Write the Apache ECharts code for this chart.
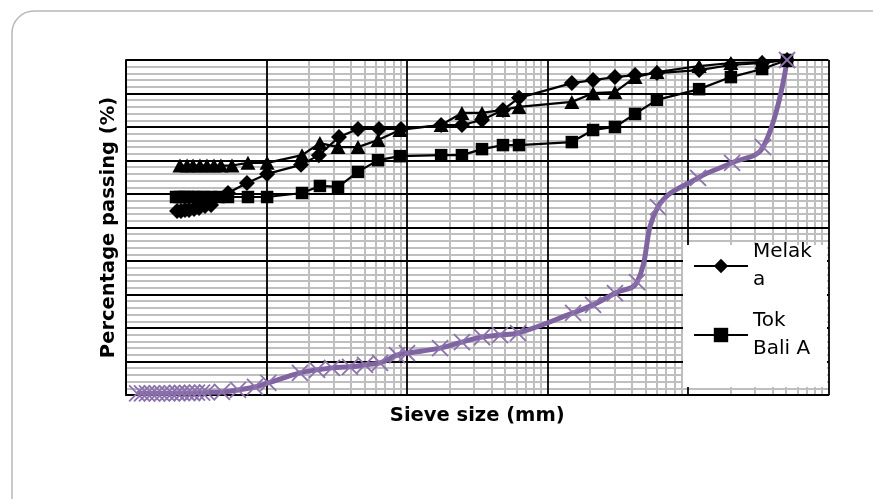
<!DOCTYPE html>
<html>
<head>
<meta charset="utf-8">
<script src="https://cdn.jsdelivr.net/npm/echarts@6/dist/echarts.min.js"></script>
<style>
html,body{margin:0;padding:0;background:#fff;}
#chart{width:873px;height:499px;}
</style>
</head>
<body>
<div id="chart"></div>
<script>
// sieve size (mm) vs percentage passing (%)
var melaka_size = [0.00231,0.00246,0.00263,0.00281,0.00305,0.00331,0.00365,0.00403,0.00532,0.00726,0.0101,
  0.0176,0.0236,0.0328,0.0448,0.0632,0.0906,0.175,0.246,0.342,0.482,0.627,1.49,2.11,3.02,4.20,6.01,12.0,20.2,33.7,50.7]
var melaka_pass = [54.9,54.9,55.2,55.2,55.5,55.8,56.4,56.7,60.3,63.3,66.0,
  68.7,71.6,77.0,79.4,79.4,79.4,80.6,80.6,82.1,85.1,88.7,93.1,94.0,94.9,95.5,96.1,97.0,98.5,99.1,100]

var tokbali_size = [0.00227,0.00242,0.00259,0.00276,0.00300,0.00325,0.00359,0.00403,0.00458,0.00532,0.00738,0.0101,
  0.0179,0.0240,0.0323,0.0448,0.0622,0.0891,0.175,0.246,0.342,0.482,0.627,1.49,2.11,3.02,4.20,6.01,12.0,20.2,33.7,50.7]
var tokbali_pass = [59.1,59.1,59.1,59.1,59.1,59.1,59.1,59.1,59.1,59.1,59.1,59.1,
  60.3,62.4,62.1,66.6,70.1,71.3,71.6,71.6,73.4,74.6,74.6,75.5,79.1,80.0,83.9,88.1,91.3,94.9,97.3,100]

var tri_size = [0.00242,0.00272,0.00300,0.00336,0.00377,0.00423,0.00474,0.00568,0.00738,0.0101,
  0.0179,0.0240,0.0323,0.0448,0.0622,0.0891,0.175,0.246,0.342,0.482,0.627,1.49,2.11,3.02,4.20,6.01,12.0,20.2,33.7,50.7]
var tri_pass = [68.5,68.5,68.5,68.5,68.5,68.5,68.5,68.5,69.3,69.3,
  71.6,75.2,74.0,74.0,76.1,79.1,80.6,84.2,84.2,85.1,86.0,87.5,90.1,90.4,94.9,96.4,98.2,99.1,99.4,100]

var purple_size = [0.00120,0.00130,0.00141,0.00153,0.00166,0.00180,0.00196,0.00212,0.00231,0.00250,0.00272,0.00295,0.00320,0.00348,0.00377,
  0.00482,0.00627,0.00828,0.0103,0.0173,0.0229,0.0292,0.0393,0.0502,0.0643,0.0849,0.100,
  0.172,0.246,0.342,0.459,0.617,1.52,2.11,3.02,4.34,6.11,11.8,20.6,34.2,50.7]
var purple_pass = [0.5,0.5,0.5,0.5,0.5,0.5,0.5,0.5,0.6,0.6,0.6,0.6,0.7,0.7,0.8,
  0.9,1.5,2.4,3.6,6.6,7.5,8.1,8.4,9.0,9.6,11.9,12.5,
  14.0,15.8,17.3,17.9,18.5,24.5,26.9,30.4,33.7,56.1,64.8,69.3,74.0,100]

var legend_names = ['Melaka', 'Tok Bali A']
var legend_label = {'Melaka': 'Melak\na', 'Tok Bali A': 'Tok\nBali A'}

// log minor grid lines 2..9 in each decade
var minor_x = []
for (var e = -3; e < 2; e++) {
  for (var k = 2; k < 10; k++) minor_x.push(+(k * Math.pow(10, e)).toPrecision(3))
}

function pairs(xs, ys){
  var out = []
  xs.forEach(function(x, i){ out.push([x, ys[i]]) })
  return out
}

var chart_div = echarts.init(document.getElementById('chart'));
option = {
  animation: false,
  grid: {left: 126, right: 44.5, top: 60, bottom: 104},
  legend: {
    data: legend_names,
    orient: 'vertical',
    left: 693,
    top: 224,
    padding: 0,
    itemWidth: 54,
    itemHeight: 18,
    itemGap: -15,
    formatter: function(name){ return legend_label[name] },
    textStyle: {fontFamily: 'DejaVu Sans', fontSize: 20, color: '#000', lineHeight: 28, padding: [28, 0, 0, 0]}
  },
  graphic: [
    {type: 'rect', silent: true, shape: {x: 12, y: 11, width: 900, height: 520, r: 22},
     style: {fill: 'none', stroke: '#b8b8b8', lineWidth: 1.5}},
    {type: 'rect', silent: true, z: 3, shape: {x: 683, y: 245, width: 144, height: 142},
     style: {fill: '#fff'}}
  ],
  xAxis: {
    type: 'log',
    logBase: 10,
    min: 0.001,
    max: 100,
    name: 'Sieve size (mm)',
    nameLocation: 'middle',
    nameGap: 11,
    nameTextStyle: {fontFamily: 'DejaVu Sans', fontWeight: 'bold', fontSize: 19.5, color: '#000'},
    axisLine: {show: true, lineStyle: {color: '#000', width: 1.8}},
    axisTick: {show: false},
    axisLabel: {show: false},
    splitLine: {show: true, lineStyle: {color: '#000', width: 1.8}}
  },
  yAxis: {
    type: 'value',
    min: 0,
    max: 100,
    interval: 10,
    name: 'Percentage passing (%)',
    nameLocation: 'middle',
    nameGap: 7,
    nameTextStyle: {fontFamily: 'DejaVu Sans', fontWeight: 'bold', fontSize: 19.5, color: '#000'},
    axisLine: {show: true, lineStyle: {color: '#000', width: 1.8}},
    axisTick: {show: false},
    axisLabel: {show: false},
    splitLine: {show: true, lineStyle: {color: '#000', width: 1.8}},
    minorTick: {show: false, splitNumber: 5},
    minorSplitLine: {show: true, lineStyle: {color: '#bfbfbf', width: 2}}
  },
  series: [
    {
      name: 'minor grid',
      type: 'line',
      data: [],
      silent: true,
      markLine: {
        silent: true,
        z: -1,
        symbol: ['none', 'none'],
        label: {show: false},
        lineStyle: {color: '#bfbfbf', width: 2, type: 'solid'},
        emphasis: {disabled: true},
        data: minor_x.map(function(v){ return {xAxis: v} })
      }
    },
    {
      name: 'Melaka',
      type: 'line',
      data: pairs(melaka_size, melaka_pass),
      symbol: 'diamond',
      symbolSize: 16,
      lineStyle: {color: '#000', width: 2.2},
      itemStyle: {color: '#000'}
    },
    {
      name: 'Tok Bali A',
      type: 'line',
      data: pairs(tokbali_size, tokbali_pass),
      symbol: 'rect',
      symbolSize: 12.5,
      lineStyle: {color: '#000', width: 2.2},
      itemStyle: {color: '#000'}
    },
    {
      name: 'Series 3',
      type: 'line',
      data: pairs(tri_size, tri_pass),
      symbol: 'triangle',
      symbolSize: [15, 14],
      lineStyle: {color: '#000', width: 2.2},
      itemStyle: {color: '#000'}
    },
    {
      name: 'Series 4',
      type: 'line',
      data: pairs(purple_size, purple_pass),
      smooth: 0.4,
      symbol: 'path://M0,0L10,10M10,0L0,10',
      symbolSize: 16,
      lineStyle: {color: '#8064a2', width: 5},
      itemStyle: {color: 'none', borderColor: '#8c72ad', borderWidth: 1.8}
    }
  ]
};
chart_div.setOption(option);
</script>
</body>
</html>
